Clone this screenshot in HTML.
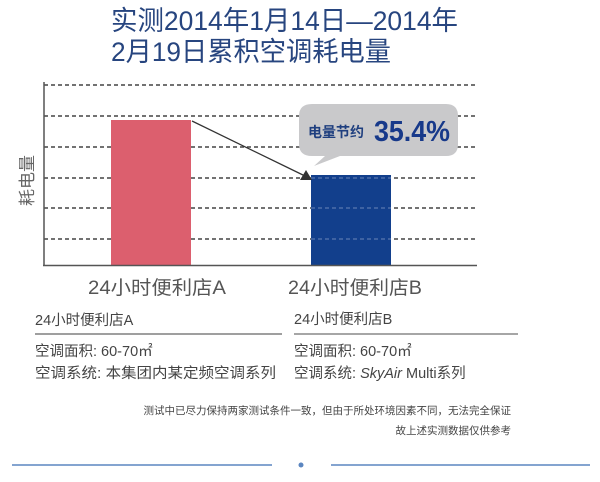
<!DOCTYPE html>
<html><head><meta charset="utf-8"><style>
html,body{margin:0;padding:0;background:#fff;}
svg{display:block;font-family:"Liberation Sans","Noto Sans CJK SC",sans-serif;}
</style></head><body>
<svg width="600" height="482" viewBox="0 0 600 482">
<g fill="#27457f" font-size="27">
<text x="111" y="30" textLength="347" lengthAdjust="spacingAndGlyphs">实测2014年1月14日—2014年</text>
<text x="111" y="61" textLength="280" lengthAdjust="spacingAndGlyphs">2月19日累积空调耗电量</text>
</g>
<g stroke="#444" stroke-width="1.5" stroke-dasharray="4,3">
<line x1="44" y1="85" x2="477" y2="85"/><line x1="44" y1="116" x2="477" y2="116"/>
<line x1="44" y1="147" x2="477" y2="147"/><line x1="44" y1="178" x2="477" y2="178"/>
<line x1="44" y1="208" x2="477" y2="208"/><line x1="44" y1="239" x2="477" y2="239"/>
</g>
<rect x="111" y="120" width="80" height="145" fill="#dc5f6e"/>
<rect x="311" y="175" width="80" height="90" fill="#123f8c"/>
<g stroke="#6b84b8" stroke-width="1" stroke-dasharray="4,3"><line x1="311" y1="178" x2="391" y2="178"/><line x1="311" y1="208" x2="391" y2="208"/><line x1="311" y1="239" x2="391" y2="239"/></g>
<line x1="44" y1="82" x2="44" y2="266" stroke="#555" stroke-width="1.5"/>
<line x1="43" y1="265.5" x2="477" y2="265.5" stroke="#555" stroke-width="1.5"/>
<line x1="192" y1="121" x2="305" y2="176" stroke="#333" stroke-width="1.3"/>
<polygon points="312,180 300,180 306,170" fill="#333"/>
<path d="M312,104 H446 Q458,104 458,116 V144 Q458,156 446,156 H340 L314,166 L325,156 H312 Q299,156 299,144 V116 Q299,104 312,104Z" fill="#c9c9cb"/>
<text x="308" y="137" font-size="14" font-weight="bold" fill="#1f3f7f">电量节约</text>
<text x="374" y="141" font-size="29" font-weight="bold" fill="#17398a" textLength="76" lengthAdjust="spacingAndGlyphs">35.4%</text>
<text transform="translate(33,206) rotate(-90)" font-size="17" fill="#666">耗电量</text>
<g fill="#555" font-size="19">
<text x="88" y="294" textLength="138" lengthAdjust="spacingAndGlyphs">24小时便利店A</text>
<text x="288" y="294" textLength="134" lengthAdjust="spacingAndGlyphs">24小时便利店B</text>
</g>
<g fill="#444" font-size="14.5">
<text x="35" y="325">24小时便利店A</text>
<text x="294" y="324">24小时便利店B</text>
<text x="35" y="356">空调面积: 60-70㎡</text>
<text x="294" y="356">空调面积: 60-70㎡</text>
<text x="35" y="378" textLength="241" lengthAdjust="spacingAndGlyphs">空调系统: 本集团内某定频空调系列</text>
<text x="294" y="378">空调系统: <tspan font-style="italic">SkyAir</tspan> Multi系列</text>
</g>
<line x1="35" y1="334" x2="282" y2="334" stroke="#666" stroke-width="1.2"/>
<line x1="294" y1="334" x2="518" y2="334" stroke="#888" stroke-width="1.5"/>
<g fill="#444" font-size="10.5" text-anchor="end">
<text x="511" y="414">测试中已尽力保持两家测试条件一致，但由于所处环境因素不同，无法完全保证</text>
<text x="511" y="434">故上述实测数据仅供参考</text>
</g>
<line x1="12" y1="465" x2="272" y2="465" stroke="#5b86c0" stroke-width="1.5"/>
<line x1="331" y1="465" x2="590" y2="465" stroke="#5b86c0" stroke-width="1.5"/>
<circle cx="301" cy="465" r="2.5" fill="#5b86c0"/>
</svg>
</body></html>
